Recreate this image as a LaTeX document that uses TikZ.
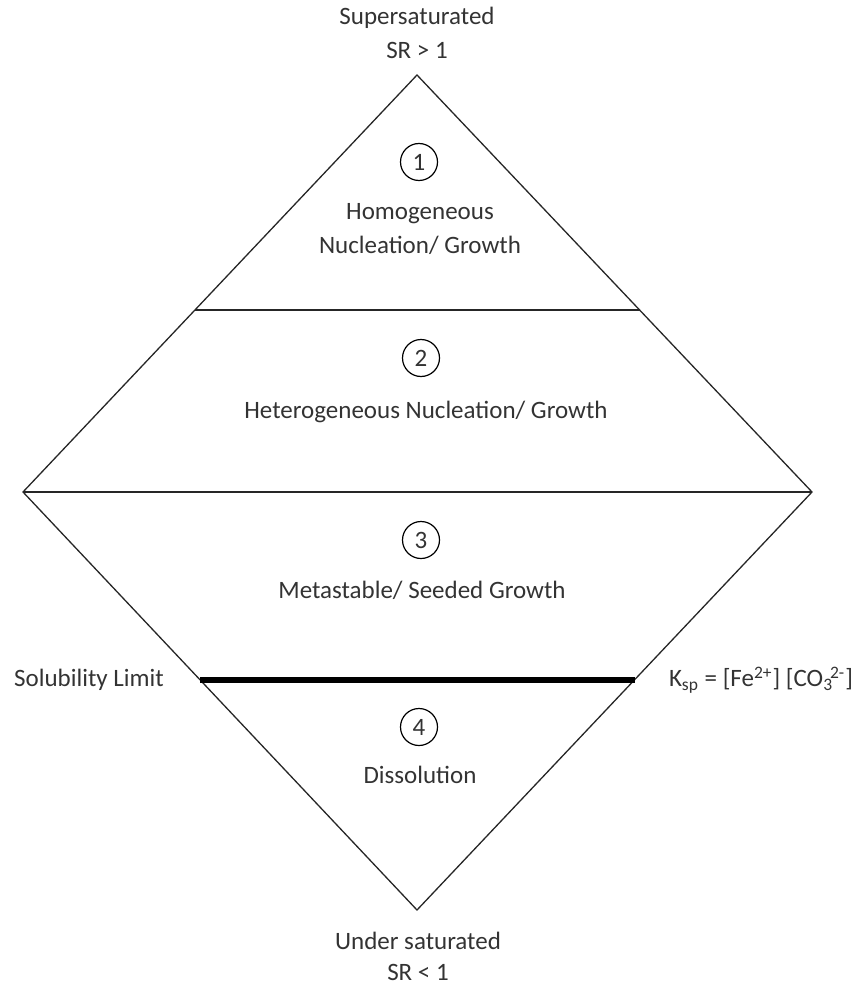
\documentclass[tikz,border=0pt]{standalone}
\usepackage{fontspec}
\setmainfont{Carlito}
\usepackage{tikz}
\usetikzlibrary{arrows,shapes,backgrounds,positioning}
\tikzstyle{num}=[circle, draw=black, line width=0.6pt, minimum size=18.5pt, inner sep=0pt]
\tikzstyle{lab}=[font=\fontsize{12.5}{15}\selectfont, text=black!80, align=center]
\tikzstyle{edgeline}=[draw=black!85, line width=0.65pt]
\begin{document}
\begin{tikzpicture}[x=0.5pt, y=-0.5pt]
          \useasboundingbox (0,0) rectangle (854,984);
          % corners of the diamond
          \coordinate (top) at (417,75);
          \coordinate (left) at (23,492);
          \coordinate (right) at (812,492);
          \coordinate (bottom) at (417,910);
          \coordinate (h1l) at (194.5,310);
          \coordinate (h1r) at (639.5,310);
          \coordinate (sll) at (199.5,680);
          \coordinate (slr) at (634.5,680);
          % 
          \draw[edgeline, line join=miter] (top) -- (right) -- (bottom) -- (left) -- cycle;
          \draw[edgeline] (h1l) -- (h1r);
          \draw[edgeline] (left) -- (right);
          \draw[line width=2.6pt] (sll) -- (slr);
          % 
          \node at (417,18) [lab] (super) {Supersaturated};
          \node at (417,50) [lab] (srgt) {SR > 1};
          \node at (419,162) [num, lab] (n1) {1};
          \node at (420,214) [lab] (homo) {Homogeneous};
          \node at (420,245) [lab] (homo2) {Nucleation/ Growth};
          \node at (421,358) [num, lab] (n2) {2};
          \node at (426,412) [lab] (hetero) {Heterogeneous Nucleation/ Growth};
          \node at (421,540) [num, lab] (n3) {3};
          \node at (422,590) [lab] (meta) {Metastable/ Seeded Growth};
          \node at (89,680) [lab] (sol) {Solubility Limit};
          \node at (761,680) [lab] (ksp) {K\textsubscript{sp} = [Fe\textsuperscript{2+}] [CO\textsubscript{3}\kern-0.12em\textsuperscript{2-}]};
          \node at (419,727) [num, lab] (n4) {4};
          \node at (420,775) [lab] (diss) {Dissolution};
          \node at (418,941) [lab] (under) {Under saturated};
          \node at (418,972) [lab] (srlt) {SR < 1};
          % 
        \end{tikzpicture}
\end{document}
